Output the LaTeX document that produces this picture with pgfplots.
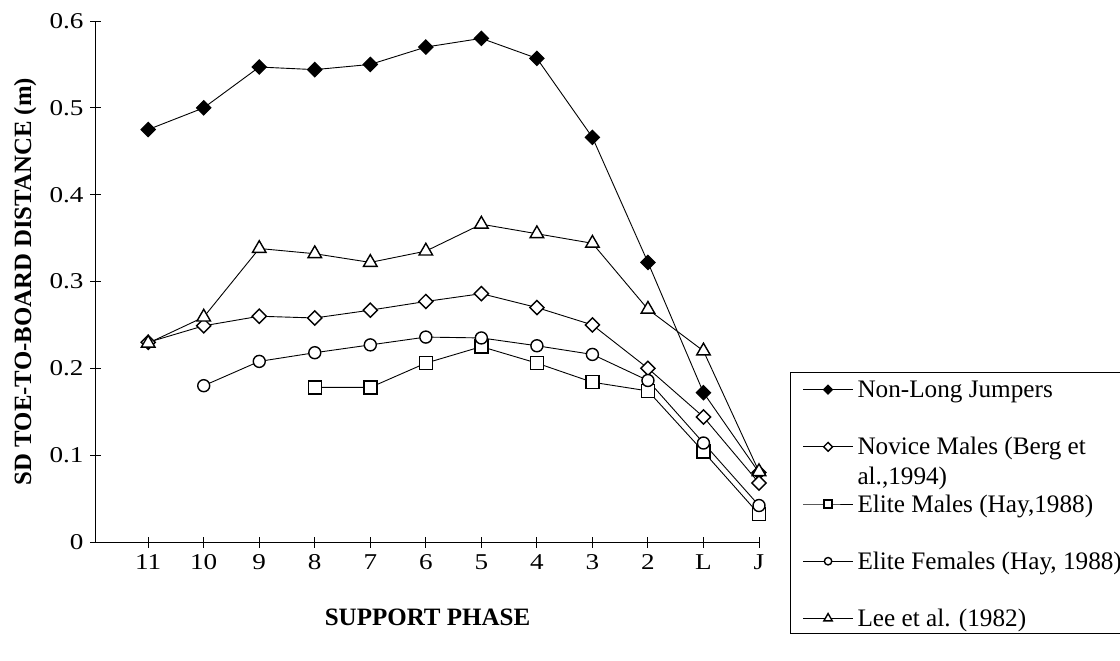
\documentclass[border=0pt]{standalone}
\usepackage{pgfplots}
\pgfplotsset{compat=1.18}
\usepackage{fontspec}
\setmainfont{Liberation Serif}
\newfontfamily\tickfont[FakeStretch=1.2]{Liberation Serif}
\begin{document}
\begin{tikzpicture}
\useasboundingbox (0,0) rectangle (560pt,330pt);
\begin{axis}[
  at={(48pt,59pt)}, anchor=south west,
  scale only axis, width=331.5pt, height=260.5pt,
  xmin=-0.94, xmax=11, ymin=0, ymax=0.6,
  axis x line=bottom, axis y line=left,
  axis line style={-, black, line width=0.5pt},
  xtick={0,1,2,3,4,5,6,7,8,9,10,11},
  xticklabels={11,10,9,8,7,6,5,4,3,2,L,J},
  ytick={0,0.1,0.2,0.3,0.4,0.5,0.6},
  yticklabels={0,0.1,0.2,0.3,0.4,0.5,0.6},
  /pgf/number format/assume math mode=true,
  tick align=center, major tick length=5.5pt,
  tick style={black, line width=0.5pt},
  ticklabel style={font=\tickfont\fontsize{11.3}{13}\selectfont},
  xlabel={\textbf{SUPPORT PHASE}},
  ylabel={\textbf{SD TOE-TO-BOARD DISTANCE (m)}},
  xlabel style={at={(axis description cs:0.5,-0.144)}, anchor=center, font=\fontsize{12.5}{14}\selectfont},
  ylabel style={at={(axis description cs:-0.107,0.5)}, anchor=center, font=\fontsize{12.4}{14}\selectfont},
  legend cell align=left,
  legend style={at={(axis description cs:1.0468,0.3263)}, anchor=north west,
    draw=black, line width=0.6pt, inner xsep=6pt, inner ysep=2pt,
    row sep=16.6pt, column sep=2pt,
    font=\fontsize{12.6}{15}\selectfont,
    nodes={anchor=base west, inner sep=0pt}},
  legend image code/.code={\draw[mark repeat=2, mark phase=2, every mark/.append style={scale=0.62}] plot coordinates {(0pt,4pt) (12.5pt,4pt) (25pt,4pt)};},
]
% Non-Long Jumpers
\addplot[black, line width=0.45pt, mark=square*, mark size=2.5pt, mark options={rotate=45, solid, fill=black, line width=0.6pt}] coordinates {
 (0,0.475) (1,0.500) (2,0.547) (3,0.544) (4,0.550) (5,0.570) (6,0.580) (7,0.557) (8,0.466) (9,0.322) (10,0.172) (11,0.080)};
\addlegendentry{\strut Non-Long Jumpers}
% Novice Males
\addplot[black, line width=0.45pt, mark=square*, mark size=2.5pt, mark options={rotate=45, solid, fill=white, line width=0.7pt}] coordinates {
 (0,0.230) (1,0.249) (2,0.260) (3,0.258) (4,0.267) (5,0.277) (6,0.286) (7,0.270) (8,0.250) (9,0.200) (10,0.144) (11,0.068)};
\addlegendentry{\strut\rlap{\raisebox{-15pt}[0pt][0pt]{al.,1994)}}Novice Males (Berg et}
% Elite Males
\addplot[black, line width=0.45pt, mark=square*, mark size=3.25pt, mark options={solid, fill=white, line width=0.7pt}] coordinates {
 (3,0.178) (4,0.178) (5,0.206) (6,0.225) (7,0.206) (8,0.184) (9,0.174) (10,0.104) (11,0.032)};
\addlegendentry{\strut Elite Males (Hay,1988)}
% Elite Females
\addplot[black, line width=0.45pt, mark=*, mark size=3pt, mark options={solid, fill=white, line width=0.7pt}] coordinates {
 (1,0.180) (2,0.208) (3,0.218) (4,0.227) (5,0.236) (6,0.235) (7,0.226) (8,0.216) (9,0.186) (10,0.114) (11,0.042)};
\addlegendentry{\strut Elite Females (Hay, 1988)}
% Lee et al.
\addplot[black, line width=0.45pt, mark=triangle*, mark size=3.9pt, mark options={solid, fill=white, line width=0.7pt}] coordinates {
 (0,0.229) (1,0.259) (2,0.338) (3,0.332) (4,0.322) (5,0.335) (6,0.366) (7,0.355) (8,0.344) (9,0.268) (10,0.220) (11,0.081)};
\addlegendentry{\strut Lee et al. (1982)\rule[-17pt]{0pt}{1pt}}
\end{axis}
\end{tikzpicture}
\end{document}
